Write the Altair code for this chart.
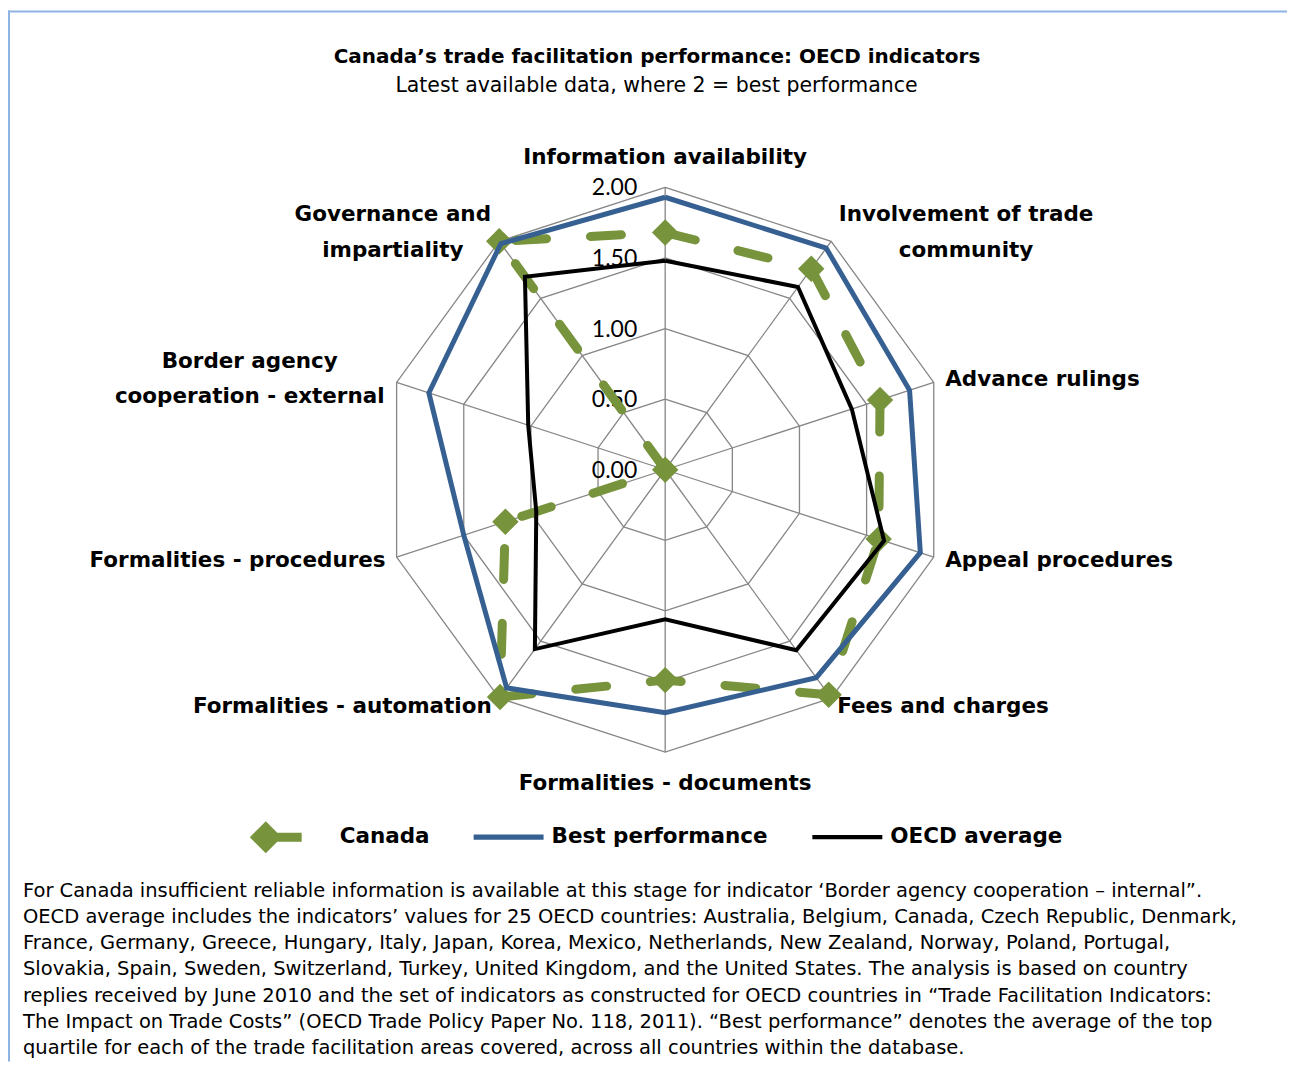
import altair as alt
import pandas as pd

# ---------------- data ----------------
categories = [
    "Information availability",
    "Involvement of trade community",
    "Advance rulings",
    "Appeal procedures",
    "Fees and charges",
    "Formalities - documents",
    "Formalities - automation",
    "Formalities - procedures",
    "Border agency cooperation - external",
    "Governance and impartiality",
]
category_labels = [
    "Information availability",
    "Involvement of trade\ncommunity",
    "Advance rulings",
    "Appeal procedures",
    "Fees and charges",
    "Formalities - documents",
    "Formalities - automation",
    "Formalities - procedures",
    "Border agency\ncooperation - external",
    "Governance and\nimpartiality",
]
series_names = ["Canada", "Best performance", "OECD average"]
canada = [1.68, 1.76, 1.60, 1.59, 1.97, 1.49, 1.99, 1.19, 0.00, 2.00]
best = [1.93, 1.94, 1.82, 1.90, 1.82, 1.72, 1.91, 1.50, 1.76, 1.98]
oecd = [1.48, 1.60, 1.39, 1.63, 1.58, 1.06, 1.57, 0.96, 1.02, 1.69]
grid_levels = [0.5, 1.0, 1.5, 2.0]
tick_values = [0.0, 0.5, 1.0, 1.5, 2.0]
tick_labels = ["0.00", "0.50", "1.00", "1.50", "2.00"]

title_text = "Canada\u2019s trade facilitation performance: OECD indicators"
subtitle_text = "Latest available data, where 2 = best performance"
footnote_lines = [
    "For Canada insufficient reliable information is available at this stage for indicator \u2018Border agency cooperation \u2013 internal\u201d.",
    "OECD average includes the indicators\u2019 values for 25 OECD countries: Australia, Belgium, Canada, Czech Republic, Denmark,",
    "France, Germany, Greece, Hungary, Italy, Japan, Korea, Mexico, Netherlands, New Zealand, Norway, Poland, Portugal,",
    "Slovakia, Spain, Sweden, Switzerland, Turkey, United Kingdom, and the United States. The analysis is based on country",
    "replies received by June 2010 and the set of indicators as constructed for OECD countries in \u201cTrade Facilitation Indicators:",
    "The Impact on Trade Costs\u201d (OECD Trade Policy Paper No. 118, 2011). \u201cBest performance\u201d denotes the average of the top",
    "quartile for each of the trade facilitation areas covered, across all countries within the database.",
]

# ---------------- style / layout ----------------
GREEN = "#77933C"
BLUE = "#376092"
BLACK = "#000000"
GRID = "#868686"
BORDER = "#8EB4E3"
LABEL_FONT = "DejaVu Sans"
TICK_FONT = "Lato"
TEXT_FONT = "DejaVu Sans"

W, H = 1280, 1054
K = 141.3                 # pixels per unit
CX, CY = 657.7, 461.7     # radar centre inside the view
n = len(categories)

xscale = alt.Scale(domain=[-CX / K, (W - CX) / K], nice=False, zero=False)
yscale = alt.Scale(domain=[-(H - CY) / K, CY / K], nice=False, zero=False)
X = alt.X("px:Q", scale=xscale, axis=None)
Y = alt.Y("py:Q", scale=yscale, axis=None)


def polar(ch):
    return ch.transform_calculate(
        px="datum.r * sin(datum.idx * 2 * PI / %d)" % n,
        py="datum.r * cos(datum.idx * 2 * PI / %d)" % n,
    )


# series table
rows = []
for name, vals in zip(series_names, [canada, best, oecd]):
    for i in range(n + 1):
        rows.append({"series": name, "idx": i, "r": vals[i % n], "category": categories[i % n]})
series_df = pd.DataFrame(rows)

# grid tables
ring_rows = [{"level": lv, "idx": i, "r": lv} for lv in grid_levels for i in range(n + 1)]
spoke_rows = [{"idx": i, "r": rr} for i in range(n) for rr in (0.0, max(grid_levels))]

rings = polar(alt.Chart(pd.DataFrame(ring_rows))).mark_line(
    color=GRID, strokeWidth=1.3
).encode(x=X, y=Y, detail="level:N", order="idx:Q")

spokes = polar(alt.Chart(pd.DataFrame(spoke_rows))).mark_line(
    color=GRID, strokeWidth=1.3
).encode(x=X, y=Y, detail="idx:N", order="r:Q")

ticks = polar(alt.Chart(pd.DataFrame({"r": tick_values, "label": tick_labels, "idx": 0}))).mark_text(
    align="right", baseline="middle", dx=-28, dy=1, font=TICK_FONT, fontSize=23, color=BLACK
).encode(x=X, y=Y, text="label:N")

base = polar(alt.Chart(series_df))

canada_line = base.transform_filter(alt.datum.series == "Canada").mark_line(
    color=GREEN, strokeWidth=9, strokeDash=[31, 44], strokeCap="round", strokeJoin="round"
).encode(x=X, y=Y, order="idx:Q")

canada_pts = base.transform_filter(
    (alt.datum.series == "Canada") & (alt.datum.idx < n)
).mark_point(shape="diamond", filled=True, size=700, color=GREEN, opacity=1).encode(x=X, y=Y)

best_line = base.transform_filter(alt.datum.series == "Best performance").mark_line(
    color=BLUE, strokeWidth=5, strokeJoin="miter"
).encode(x=X, y=Y, order="idx:Q")

oecd_line = base.transform_filter(alt.datum.series == "OECD average").mark_line(
    color=BLACK, strokeWidth=4, strokeJoin="miter"
).encode(x=X, y=Y, order="idx:Q")

# category labels: (align, dx, dy) per category; dy is for the first line
label_style = [
    ("center", 0, -29.5),
    ("center", 135, -26.5),
    ("left", 11.5, -2.5),
    ("left", 11.5, 3.5),
    ("left", 6, 9),
    ("center", 0, 31.5),
    ("right", -7.5, 9),
    ("right", -11, 3.5),
    ("center", -147, -21),
    ("center", -106.5, -26.5),
]
label_layers = []
for i, (lab, (al, ddx, ddy)) in enumerate(zip(category_labels, label_style)):
    d = pd.DataFrame({"idx": [i], "r": [max(grid_levels)], "label": [lab]})
    label_layers.append(
        polar(alt.Chart(d)).mark_text(
            align=al, baseline="middle", dx=ddx, dy=ddy, lineBreak="\n", lineHeight=36,
            font=LABEL_FONT, fontSize=21.5, fontWeight="bold", color=BLACK
        ).encode(x=X, y=Y, text="label:N")
    )

# legend (native legend, built from the series names; no marks drawn)
pad = "M0,-0.46L0.001,-0.46L0,-0.459ZM0,0.46L0.001,0.46L0,0.459Z"
canada_sym = ("M-1.343,0L-0.886,-0.457L-0.429,0L-0.886,0.457Z"
              "M-0.886,-0.13L0.14,-0.13L0.14,0.13L-0.886,0.13Z")
blue_sym = "M-1,-0.075L1,-0.075L1,0.075L-1,0.075Z" + pad
black_sym = "M-1,-0.06L1,-0.06L1,0.06L-1,0.06Z" + pad
leg = alt.Legend(
    orient="none", legendX=254, legendY=794, direction="horizontal", title=None,
    symbolSize=4900, symbolStrokeWidth=0, symbolOpacity=1,
    labelFont=LABEL_FONT, labelFontSize=21.5, labelFontWeight="bold", labelColor=BLACK,
    labelOffset=8, columnPadding=44, padding=0, labelLimit=0,
)
legend_layer = alt.Chart(pd.DataFrame({"series": series_names})).transform_filter(
    "false"
).mark_point(filled=True, size=4900).encode(
    color=alt.Color("series:N", scale=alt.Scale(domain=series_names, range=[GREEN, BLUE, BLACK]), legend=leg),
    shape=alt.Shape("series:N", scale=alt.Scale(domain=series_names, range=[canada_sym, blue_sym, black_sym]), legend=leg),
)

# titles, footnote, border
one = pd.DataFrame({"t": [title_text], "s": [subtitle_text], "f": ["\n".join(footnote_lines)]})
title = alt.Chart(one).mark_text(
    align="center", baseline="middle", font=TEXT_FONT, fontSize=20, fontWeight="bold", color=BLACK
).encode(text="t:N", x=alt.value(649.5), y=alt.value(49))
subtitle = alt.Chart(one).mark_text(
    align="center", baseline="middle", font=TEXT_FONT, fontSize=20.5, color=BLACK
).encode(text="s:N", x=alt.value(649), y=alt.value(78))
footnote = alt.Chart(one).mark_text(
    align="left", baseline="alphabetic", font=TEXT_FONT, fontSize=19.5, color=BLACK,
    lineBreak="\n", lineHeight=26.1
).encode(text="f:N", x=alt.value(15), y=alt.value(889.5))

border_top = alt.Chart(one).mark_rule(color=BORDER, strokeWidth=2).encode(
    x=alt.value(0), x2=alt.value(W), y=alt.value(3))
border_left = alt.Chart(one).mark_rule(color=BORDER, strokeWidth=2).encode(
    x=alt.value(1), y=alt.value(2), y2=alt.value(H))

chart = alt.layer(
    border_top, border_left, rings, spokes, ticks,
    canada_line, canada_pts, best_line, oecd_line,
    *label_layers, legend_layer, title, subtitle, footnote,
).properties(
    width=W, height=H, padding=0, autosize=alt.AutoSizeParams(type="none"), background="white"
).configure_view(stroke=None)

chart.save("out.html", embed_options={"renderer": "svg", "actions": False})
